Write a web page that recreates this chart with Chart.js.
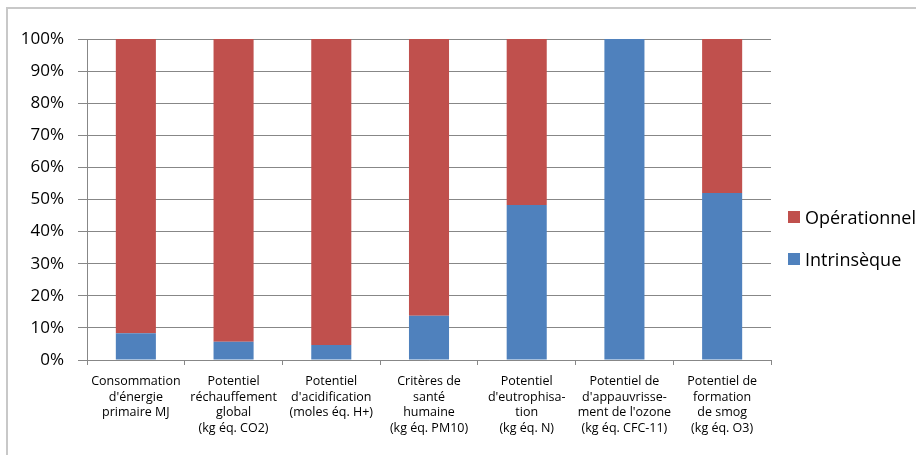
<!DOCTYPE html>
<html>
<head>
<meta charset="utf-8">
<script src="https://cdn.jsdelivr.net/npm/chart.js@4/dist/chart.umd.min.js"></script>
<style>
  body { margin: 0; background: #fff; overflow: hidden; }
  #wrap { position: relative; width: 916px; height: 455px; overflow: hidden; }
  #cadre { position: absolute; left: 6px; top: 7px; width: 920px; height: 460px; border: 2px solid #c8c8c8; }
  canvas { position: absolute; left: 0; top: 0; }
  #legende { position: absolute; left: 788px; top: 206px; font: 18px "Open Sans"; color: #000; }
  .item { display: flex; align-items: center; height: 21px; margin-bottom: 21px; white-space: nowrap; }
  .carre { width: 12px; height: 12px; margin-right: 5px; }
</style>
</head>
<body>
<div id="wrap">
  <div id="cadre"></div>
  <canvas id="graphique" width="916" height="455"></canvas>
  <div id="legende"></div>
</div>
<script>
const categories = [
  ["Consommation", "d'énergie", "primaire MJ"],
  ["Potentiel", "réchauffement", "global", "(kg éq. CO2)"],
  ["Potentiel", "d'acidification", "(moles éq. H+)"],
  ["Critères de", "santé", "humaine", "(kg éq. PM10)"],
  ["Potentiel", "d'eutrophisa-", "tion", "(kg éq. N)"],
  ["Potentiel de", "d'appauvrisse-", "ment de l'ozone", "(kg éq. CFC-11)"],
  ["Potentiel de", "formation", "de smog", "(kg éq. O3)"]
];
const intrinseque = [8.3, 5.7, 4.7, 13.8, 48.3, 100, 52.0];
const operationnel = [91.7, 94.3, 95.3, 86.2, 51.7, 0, 48.0];
const ticksY = [0, 10, 20, 30, 40, 50, 60, 70, 80, 90, 100];

const couleurIntrinseque = "#4F81BD";
const couleurOperationnel = "#C0504D";
const gris = "#878787";

const chart = new Chart(document.getElementById("graphique"), {
  type: "bar",
  data: {
    labels: categories,
    datasets: [
      { label: "Intrinsèque", data: intrinseque, backgroundColor: couleurIntrinseque },
      { label: "Opérationnel", data: operationnel, backgroundColor: couleurOperationnel }
    ]
  },
  options: {
    responsive: false,
    animation: false,
    layout: { padding: { left: 0, top: 39, right: 145, bottom: 0 } },
    plugins: { legend: { display: false }, tooltip: { enabled: false } },
    datasets: { bar: { categoryPercentage: 0.41, barPercentage: 1 } },
    scales: {
      x: {
        stacked: true,
        grid: { offset: true, drawOnChartArea: false, tickLength: 5, color: gris },
        border: { color: gris },
        ticks: {
          font: { family: "Open Sans", size: 12.5, lineHeight: 15.5 / 12.5 },
          color: "#000",
          padding: 9,
          maxRotation: 0,
          autoSkip: false
        },
        afterFit(scale) { scale.height = 95; }
      },
      y: {
        stacked: true,
        min: 0,
        max: 100,
        afterBuildTicks(scale) { scale.ticks = ticksY.map(v => ({ value: v })); },
        ticks: {
          callback: v => v + "%",
          font: { family: "Open Sans", size: 17 },
          color: "#000",
          padding: 14
        },
        grid: { color: gris, tickLength: 9 },
        border: { color: gris },
        afterFit(scale) { scale.width = 87; }
      }
    }
  }
});

// légende (ordre inversé comme dans Excel)
const legende = document.getElementById("legende");
chart.data.datasets.slice().reverse().forEach(ds => {
  legende.innerHTML += `<div class="item"><span class="carre" style="background:${ds.backgroundColor}"></span>${ds.label}</div>`;
});
</script>
</body>
</html>
